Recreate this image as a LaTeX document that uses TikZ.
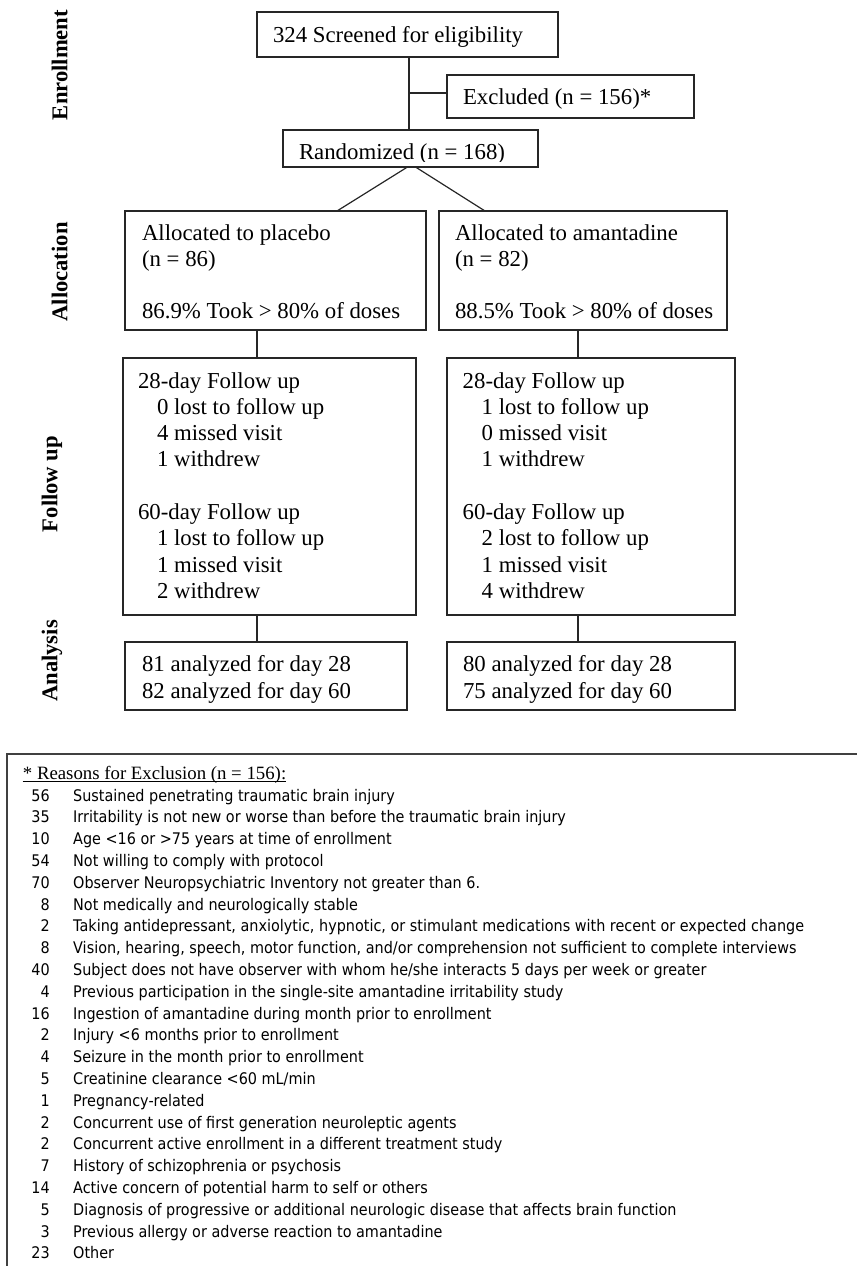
\documentclass[tikz,border=0pt]{standalone}
\usepackage{fontspec}
\setmainfont{Liberation Serif}
\newfontfamily\listfont[FakeStretch=0.9]{DejaVu Sans}
\begin{document}
\begin{tikzpicture}[x=1pt,y=-1pt,
  box/.style={draw=black!85, line width=1.2pt, inner sep=0pt, outer sep=0pt, rectangle},
  txt/.style={inner sep=0pt, outer sep=0pt, font=\fontsize{22.8}{26.3}\selectfont, align=left, anchor=north west, text=black},
  txtone/.style={inner sep=0pt, outer sep=0pt, font=\fontsize{22.8}{26.3}\selectfont, anchor=base west, text=black},
  side/.style={inner sep=0pt, font=\fontsize{22.6}{26}\selectfont\bfseries, rotate=90, anchor=mid},
  link/.style={draw=black!85, line width=1.2pt},
  lnum/.style={inner sep=0pt, font=\listfont\fontsize{16}{20}\selectfont, anchor=base east},
  ltxt/.style={inner sep=0pt, font=\listfont\fontsize{16}{20}\selectfont, anchor=base west}]
\useasboundingbox (0,0) rectangle (857,1266);

% side labels
\node[side] (lenr) at (65,65) {Enrollment};
\node[side] (lall) at (65,272) {Allocation};
\node[side] (lfol) at (55,484) {Follow up};
\node[side] (lana) at (55,661) {Analysis};

% boxes
\node[box, minimum width=301pt, minimum height=45pt] (scr) at (407.5,34.5) {};
\node[box, minimum width=247pt, minimum height=43pt] (exc) at (570.5,96.5) {};
\node[box, minimum width=255pt, minimum height=37pt] (rnd) at (410.5,148.5) {};
\node[box, minimum width=301pt, minimum height=119pt] (alP) at (275.5,270.5) {};
\node[box, minimum width=288pt, minimum height=119pt] (alA) at (583,270.5) {};
\node[box, minimum width=293pt, minimum height=257pt] (fuP) at (269.5,486.5) {};
\node[box, minimum width=288pt, minimum height=257pt] (fuA) at (591,486.5) {};
\node[box, minimum width=282pt, minimum height=68pt] (anP) at (266,676) {};
\node[box, minimum width=288pt, minimum height=68pt] (anA) at (591,676) {};

% texts
\node[txtone] (scrt) at (273,42.5) {324 Screened for eligibility};
\node[txtone] (exct) at (463,104) {Excluded (n = 156)*};
\begin{scope}
\clip (283,130) rectangle (538,161);
\node[txtone] (rndt) at (299,159.5) {Randomized (n = 168)};
\end{scope}
\node[txt] (alPt) at (142,224) {\rule{0pt}{16pt}Allocated to placebo\\(n = 86)\\[26.3pt]86.9\% Took > 80\% of doses};
\node[txt] (alAt) at (455,224) {\rule{0pt}{16pt}Allocated to amantadine\\(n = 82)\\[26.3pt]88.5\% Took > 80\% of doses};
\node[txt] (fuPt) at (138,372) {\rule{0pt}{16pt}28-day Follow up\\\hspace*{19pt}0 lost to follow up\\\hspace*{19pt}4 missed visit\\\hspace*{19pt}1 withdrew\\[26.3pt]60-day Follow up\\\hspace*{19pt}1 lost to follow up\\\hspace*{19pt}1 missed visit\\\hspace*{19pt}2 withdrew};
\node[txt] (fuAt) at (462.7,372) {\rule{0pt}{16pt}28-day Follow up\\\hspace*{19pt}1 lost to follow up\\\hspace*{19pt}0 missed visit\\\hspace*{19pt}1 withdrew\\[26.3pt]60-day Follow up\\\hspace*{19pt}2 lost to follow up\\\hspace*{19pt}1 missed visit\\\hspace*{19pt}4 withdrew};
\node[txt] (anPt) at (142,655.7) {\rule{0pt}{16pt}81 analyzed for day 28\\82 analyzed for day 60};
\node[txt] (anAt) at (463,655.7) {\rule{0pt}{16pt}80 analyzed for day 28\\75 analyzed for day 60};

% connectors
\coordinate (j) at (409,93);
\coordinate (cp) at (257,0);
\coordinate (ca) at (578,0);
\draw[link] (scr.south -| j) -- (rnd.north -| j);
\draw[link] (j) -- (exc.west |- j);
\draw[link] ([xshift=-3pt]rnd.south) -- ([xshift=61.5pt]alP.north);
\draw[link] ([xshift=5pt]rnd.south) -- ([xshift=-98pt]alA.north);
\draw[link] (alP.south -| cp) -- (fuP.north -| cp);
\draw[link] (fuP.south -| cp) -- (anP.north -| cp);
\draw[link] (alA.south -| ca) -- (fuA.north -| ca);
\draw[link] (fuA.south -| ca) -- (anA.north -| ca);

% footnote frame
\draw[draw=black!75, line width=1.3pt] (7,1266) -- (7,754) -- (857,754);
\node[inner sep=0pt, anchor=base west, font=\fontsize{18.8}{22}\selectfont] (hd) at (22.7,779) {* Reasons for Exclusion (n = 156):};
\draw[line width=0.9pt] ([yshift=-2.5pt]hd.base west) -- ([yshift=-2.5pt]hd.base east);

\foreach \n/\t [count=\k from 0] in {
56/{Sustained penetrating traumatic brain injury},
35/{Irritability is not new or worse than before the traumatic brain injury},
10/{Age <16 or >75 years at time of enrollment},
54/{Not willing to comply with protocol},
70/{Observer Neuropsychiatric Inventory not greater than 6.},
8/{Not medically and neurologically stable},
2/{Taking antidepressant, anxiolytic, hypnotic, or stimulant medications with recent or expected change},
8/{Vision, hearing, speech, motor function, and/or comprehension not sufficient to complete interviews},
40/{Subject does not have observer with whom he/she interacts 5 days per week or greater},
4/{Previous participation in the single-site amantadine irritability study},
16/{Ingestion of amantadine during month prior to enrollment},
2/{Injury <6 months prior to enrollment},
4/{Seizure in the month prior to enrollment},
5/{Creatinine clearance <60 mL/min},
1/{Pregnancy-related},
2/{Concurrent use of first generation neuroleptic agents},
2/{Concurrent active enrollment in a different treatment study},
7/{History of schizophrenia or psychosis},
14/{Active concern of potential harm to self or others},
5/{Diagnosis of progressive or additional neurologic disease that affects brain function},
3/{Previous allergy or adverse reaction to amantadine},
23/{Other}} {
  \node[lnum] (n\k) at (50, 801+21.8*\k) {\n};
  \node[ltxt] (t\k) at (73, 801+21.8*\k) {\t};
}
\end{tikzpicture}
\end{document}
